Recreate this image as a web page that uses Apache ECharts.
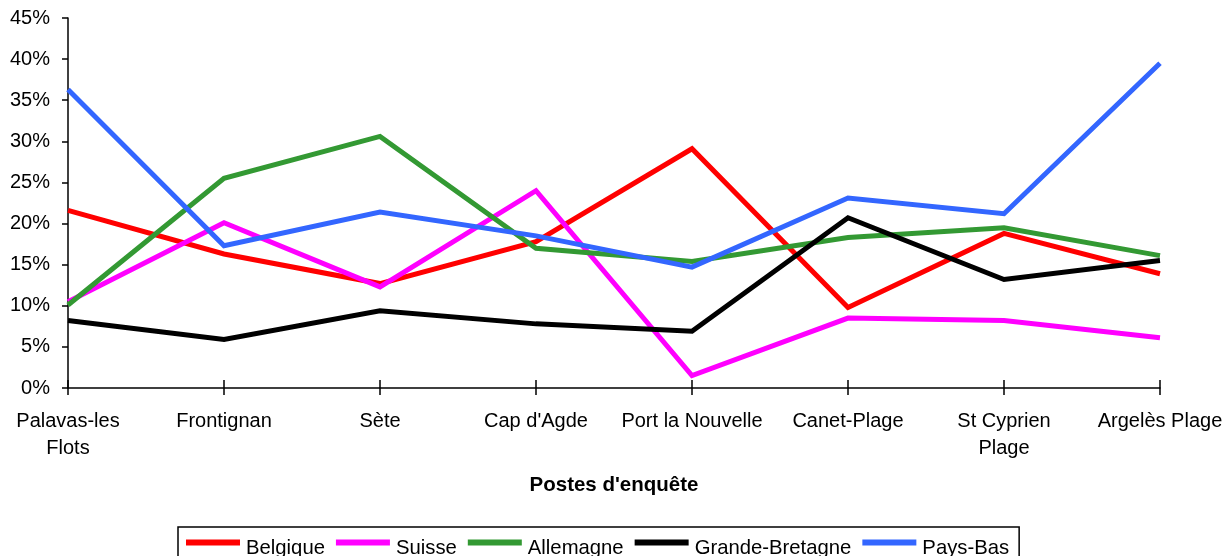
<!DOCTYPE html>
<html>
<head>
<meta charset="utf-8">
<script src="https://cdn.jsdelivr.net/npm/echarts@6/dist/echarts.min.js"></script>
<style>
html,body{margin:0;padding:0;background:#fff;}
#c{width:1229px;height:556px;}
</style>
</head>
<body>
<div id="c"></div>
<script>
const categories = ["Palavas-les\nFlots","Frontignan","Sète","Cap d'Agde","Port la Nouvelle","Canet-Plage","St Cyprien\nPlage","Argelès Plage"];
const belgique = [21.6,16.3,12.7,17.8,29.1,9.8,18.8,13.9];
const suisse = [10.5,20.1,12.3,24.0,1.5,8.5,8.2,6.1];
const allemagne = [10.1,25.5,30.6,17.0,15.4,18.3,19.5,16.1];
const grandeBretagne = [8.2,5.9,9.4,7.8,6.9,20.7,13.2,15.5];
const paysBas = [36.3,17.3,21.4,18.5,14.7,23.1,21.2,39.5];
const yTicks = [0,5,10,15,20,25,30,35,40,45];

const font = "'Liberation Sans', Arial, sans-serif";
const chart = echarts.init(document.getElementById('c'), null, {renderer:'canvas'});

function mk(name, data, color){
  return {name, type:'line', data, symbol:'none', xAxisIndex:0,
    lineStyle:{color, width:5, join:'miter'}, itemStyle:{color}};
}

chart.setOption({
  animation:false,
  textStyle:{fontFamily:font},
  grid:{left:68,right:69,top:18,bottom:168,containLabel:false,outerBoundsMode:'none'},
  legend:{
    left:178, top:527, width:900,
    icon:'rect', itemWidth:54, itemHeight:6, itemGap:11,
    padding:[11,10,12,8],
    borderColor:'#000', borderWidth:1.5,
    textStyle:{fontFamily:font,fontSize:20.3,color:'#000',
      rich:{t:{fontFamily:font,fontSize:20.3,color:'#000',padding:[11,0,0,1]}}},
    formatter:function(n){return '{t|'+n+'}';},
    data:['Belgique','Suisse','Allemagne','Grande-Bretagne','Pays-Bas']
  },
  xAxis:[{
    type:'category', data:categories, boundaryGap:false,
    axisLine:{lineStyle:{color:'#000',width:1.5}},
    axisTick:{show:true,length:7,alignWithLabel:true,lineStyle:{color:'#000',width:1.5}},
    axisLabel:{interval:0,margin:20,fontSize:20,lineHeight:27,color:'#000',fontFamily:font},
    splitLine:{show:false},
    name:"Postes d'enquête", nameLocation:'middle', nameGap:87,
    nameTextStyle:{fontSize:20.5,fontWeight:'bold',color:'#000',fontFamily:font}
  },{
    type:'category', data:categories, boundaryGap:false, position:'bottom',
    axisLine:{show:false},
    axisTick:{show:true,inside:true,length:8,lineStyle:{color:'#000',width:1.5}},
    axisLabel:{show:false}, splitLine:{show:false}
  }],
  yAxis:{
    type:'value', min:0, max:45, interval:5,
    axisLine:{show:true,lineStyle:{color:'#000',width:1.5}},
    axisTick:{show:true,length:6,lineStyle:{color:'#000',width:1.5}},
    axisLabel:{margin:18,fontSize:20,color:'#000',fontFamily:font,
      formatter:function(v){return (yTicks.indexOf(v)>=0? v : v)+'%';}},
    splitLine:{show:false}
  },
  series:[
    mk('Belgique',belgique,'#FF0000'),
    mk('Suisse',suisse,'#FF00FF'),
    mk('Allemagne',allemagne,'#339933'),
    mk('Grande-Bretagne',grandeBretagne,'#000000'),
    mk('Pays-Bas',paysBas,'#3366FF')
  ]
});
</script>
</body>
</html>
